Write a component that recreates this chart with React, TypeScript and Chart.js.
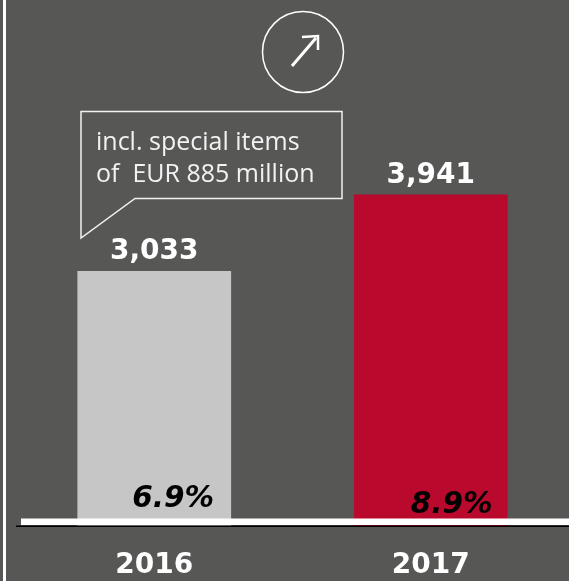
import React, { useEffect, useRef } from "react";
import { Chart, registerables } from "chart.js";

Chart.register(...registerables);

const categories = ["2016", "2017"];
const values = [3033, 3941];
const valueLabels = ["3,033", "3,941"];
const margins = ["6.9%", "8.9%"];
const barColors = ["#c6c6c6", "#b90a2e"];
const calloutLines = ["incl. special items", "of  EUR 885 million"];

const BG = "#575756";
const BOLD = "'DejaVu Sans'";

const overlay = {
  id: "overlay",
  afterDatasetsDraw(chart: any) {
    const { ctx } = chart;
    const bars = chart.getDatasetMeta(0).data;
    ctx.save();

    // left rule
    ctx.fillStyle = "#ffffff";
    ctx.fillRect(3, 0, 3, 581);

    // baseline rules
    ctx.fillStyle = "#000000";
    ctx.fillRect(16, 525.5, 553, 1.5);
    ctx.fillStyle = "#ffffff";
    ctx.fillRect(21, 518.5, 548, 6.5);

    // value labels
    ctx.fillStyle = "#ffffff";
    ctx.font = `bold 28px ${BOLD}`;
    ctx.textAlign = "center";
    ctx.textBaseline = "alphabetic";
    bars.forEach((b: any, i: number) => {
      ctx.fillText(valueLabels[i], b.x, b.y - 12);
    });

    // margin labels
    ctx.fillStyle = "#000000";
    ctx.font = `italic bold 29.5px ${BOLD}`;
    const marginY = [507, 513];
    const marginDx = [19, 21];
    bars.forEach((b: any, i: number) => {
      ctx.fillText(margins[i], b.x + marginDx[i], marginY[i]);
    });

    // callout
    ctx.strokeStyle = "#f2f2f2";
    ctx.lineWidth = 1.5;
    ctx.beginPath();
    ctx.moveTo(81, 111.5);
    ctx.lineTo(342, 111.5);
    ctx.lineTo(342, 198.5);
    ctx.lineTo(135, 198.5);
    ctx.lineTo(81, 238);
    ctx.closePath();
    ctx.stroke();
    ctx.fillStyle = "#f2f2f2";
    ctx.font = "25px 'Open Sans'";
    ctx.textAlign = "left";
    ctx.fillText(calloutLines[0], 96, 150);
    ctx.fillText(calloutLines[1], 96, 181.5);

    // trend icon
    ctx.strokeStyle = "#ffffff";
    ctx.lineWidth = 1.5;
    ctx.beginPath();
    ctx.arc(303, 52, 40.5, 0, Math.PI * 2);
    ctx.stroke();
    ctx.lineWidth = 3;
    ctx.beginPath();
    ctx.moveTo(292, 66);
    ctx.lineTo(316, 38);
    ctx.stroke();
    ctx.lineWidth = 2.5;
    ctx.beginPath();
    ctx.moveTo(302, 37);
    ctx.lineTo(318, 36);
    ctx.lineTo(318, 50);
    ctx.stroke();

    ctx.restore();
  },
};

export default function App() {
  const ref = useRef<HTMLCanvasElement>(null);
  useEffect(() => {
    document.body.style.margin = "0";
    document.body.style.background = BG;
    const chart = new Chart(ref.current!, {
      type: "bar",
      data: {
        labels: categories,
        datasets: [
          {
            data: values,
            backgroundColor: barColors,
            borderWidth: 0,
            barPercentage: 0.556,
            categoryPercentage: 1,
          },
        ],
      },
      options: {
        animation: false,
        responsive: false,
        layout: { padding: { left: 16, right: 0, top: 0, bottom: 0 } },
        plugins: { legend: { display: false }, tooltip: { enabled: false } },
        scales: {
          x: {
            grid: { display: false },
            border: { display: false },
            afterFit(scale: any) {
              scale.height = 55;
            },
            ticks: {
              color: "#ffffff",
              padding: 15,
              maxRotation: 0,
              font: { family: BOLD, size: 28, weight: "bold" },
            },
          },
          y: { display: false, min: 0, max: 6254 },
        },
      },
      plugins: [overlay],
    } as any);
    return () => chart.destroy();
  }, []);
  return (
    <canvas
      ref={ref}
      width={569}
      height={581}
      style={{ display: "block", width: 569, height: 581, background: BG }}
    />
  );
}
